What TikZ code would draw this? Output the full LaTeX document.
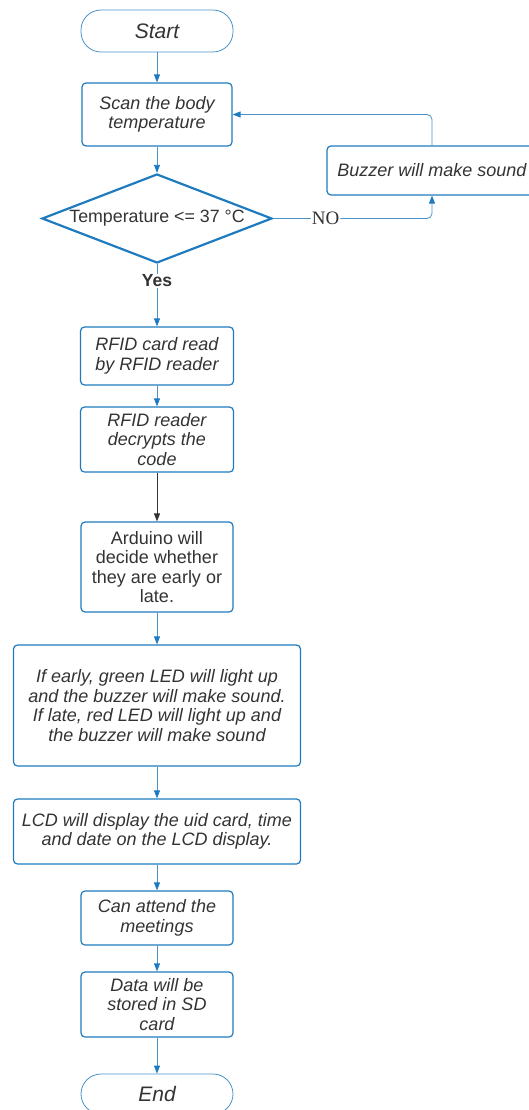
\documentclass[tikz,border=0pt]{standalone}
\usepackage{fontspec}
\setmainfont{Liberation Sans}
\newfontfamily\noserif{Liberation Serif}
\usetikzlibrary{shapes.geometric,arrows.meta}
\definecolor{flowblue}{HTML}{1F7BBF}
\definecolor{lineblue}{HTML}{4A92C8}
\definecolor{textgray}{HTML}{333333}
\newcommand{\boxfont}{\fontsize{18}{19.6}\selectfont}
\tikzset{
  stepbox/.style={draw=flowblue, line width=1.2pt, rounded corners=4pt, align=center,
    inner sep=2pt, font=\boxfont\itshape, text=textgray},
  termbox/.style={draw=lineblue, line width=0.8pt, rounded corners=20pt, align=center,
    font=\itshape\fontsize{21}{24}\selectfont, text=textgray},
  decision/.style={draw=flowblue, diamond, line width=2.2pt, aspect=2.58, inner sep=0pt,
    minimum width=230pt, minimum height=89pt, text=textgray},
  flow/.style={draw=lineblue, line width=0.8pt, -{Triangle[width=6pt,length=8pt,color=flowblue]}}
}
\begin{document}
\begin{tikzpicture}[x=1pt, y=-1pt, font=\boxfont]
\useasboundingbox (0,0) rectangle (529,1110);
% nodes, top to bottom
\node[termbox, minimum width=152pt, minimum height=42pt] (start) at (157,31) {Start};
\node[stepbox, minimum width=150pt, minimum height=63pt] (scan) at (157,114.5) {Scan the body\\temperature};
\node[decision, font=\fontsize{17.8}{20}\selectfont] (temp) at (157,218.5) {Temperature <= 37 °C};
\node[stepbox, minimum width=210pt, minimum height=49pt] (buzz) at (432,170.5) {Buzzer will make sound};
\node[stepbox, minimum width=153pt, minimum height=58pt] (card) at (157,356) {RFID card read\\by RFID reader};
\node[stepbox, minimum width=153pt, minimum height=65pt] (decrypt) at (157,439.5) {RFID reader\\decrypts the\\code};
\node[stepbox, font=\boxfont, minimum width=152pt, minimum height=90pt] (arduino) at (157,567) {Arduino will\\decide whether\\they are early or\\late.};
\node[stepbox, minimum width=287pt, minimum height=121pt] (led) at (157,705.5) {If early, green LED will light up\\and the buzzer will make sound.\\If late, red LED will light up and\\the buzzer will make sound};
\node[stepbox, minimum width=287pt, minimum height=65pt] (lcd) at (157,831.5) {LCD will display the uid card, time\\and date on the LCD display.};
\node[stepbox, minimum width=152pt, minimum height=54pt] (attend) at (157,918) {Can attend the\\meetings};
\node[stepbox, minimum width=152pt, minimum height=65pt] (store) at (157,1004.5) {Data will be\\stored in SD\\card};
\node[termbox, minimum width=152pt, minimum height=40pt] (end) at (157,1094) {End};

% connectors
\draw[flow] (start) -- (scan);
\draw[flow] (scan) -- (temp);
\draw[flow, rounded corners=5pt] (temp.east) -- node[pos=0.33, fill=white, inner sep=1pt, text=textgray, font=\noserif\fontsize{19}{20}\selectfont] {NO} (temp.east -| buzz) -- (buzz.south);
\draw[flow, rounded corners=5pt] (buzz.north) -- (buzz.north |- scan.east) -- (scan.east);
\draw[flow] (temp.south) -- node[pos=0.27, fill=white, inner sep=1pt, text=textgray, font=\bfseries\fontsize{17.5}{20}\selectfont] {Yes} (card.north);
\draw[flow] (card) -- (decrypt);
\draw[flow, draw=textgray, -{Triangle[width=6pt,length=8pt,color=textgray]}] (decrypt) -- (arduino);
\draw[flow] (arduino) -- (led);
\draw[flow] (led) -- (lcd);
\draw[flow] (lcd) -- (attend);
\draw[flow] (attend) -- (store);
\draw[flow] (store) -- (end);
\end{tikzpicture}
\end{document}
